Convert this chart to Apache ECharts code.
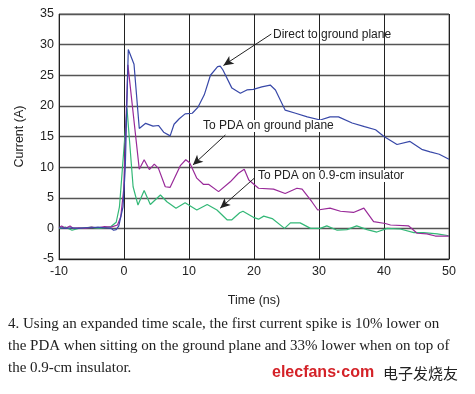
<!DOCTYPE html>
<html><head><meta charset="utf-8">
<script src="https://cdn.jsdelivr.net/npm/echarts@6/dist/echarts.min.js"></script>
<style>html,body{margin:0;padding:0;background:#fff}#c{width:475px;height:394px}</style>
</head><body><div id="c"></div>
<script>
var xTicks = [-10, 0, 10, 20, 30, 40, 50];
var yTicks = [-5, 0, 5, 10, 15, 20, 25, 30, 35];
var seriesNames = ["Direct to ground plane", "To PDA on ground plane", "To PDA on 0.9-cm insulator"];
var directTime = [-10,-9,-8,-7,-6,-5,-4,-3,-2,-1.6,-1.2,-0.8,-0.15,0.2,0.66,1.54,2.35,3.33,4.46,5.3,6.1,7.1,7.7,8.5,9.4,10.5,11.4,12.35,13.3,14.4,14.8,15.2,16.6,17.9,18.9,19.9,21.2,22.5,23.3,24.8,26.4,28.2,30.2,31.7,33,35.1,37,38.7,40,42,44,45.8,47.1,48.5,50];
var directVal = [0.1,0,0.1,0,0.1,0.1,0.2,0.1,0,-0.3,-0.2,0.4,3.5,10,29.2,26.8,16.3,17.15,16.7,16.8,15.7,15.1,17.0,17.9,18.7,18.8,19.8,21.8,25.0,26.4,26.5,25.9,22.9,22.05,22.6,22.7,23.1,23.4,22.6,19.3,18.8,18.2,17.7,18.2,18.2,17.2,16.6,16.1,15.0,13.7,14.2,12.9,12.5,12.1,11.3];
var groundTime = [-10,-9.6,-9,-8.3,-7.8,-7,-6,-5,-4,-3,-2,-1,-0.5,-0.05,0.6,2.35,3.1,3.9,4.66,5.3,6.35,7.1,8.7,9.5,10.1,11.2,12.2,13.0,14.55,16.35,17.6,18.5,19.2,20.7,23.0,24.8,26.6,27.4,28.9,29.8,31.7,33.3,35.3,36.9,38.4,40.2,41,43.8,45.1,46.6,47.9,50];
var groundVal = [0.1,0.4,0,0.4,0,0.1,0,0.2,0.1,0.3,0.2,0.55,1.9,6.3,26.7,9.65,11.2,9.6,10.5,9.8,6.8,6.7,10.3,11.2,10.7,8.2,7.2,7.2,6.0,7.6,9.0,9.65,7.9,6.55,6.4,5.7,6.55,6.4,4.35,3.0,3.3,2.8,2.6,3.3,1.1,0.8,0.55,0.4,-0.8,-0.9,-1.25,-1.25];
var insulTime = [-10,-9,-8,-7,-6,-5,-4,-3,-2,-1.2,-0.7,-0.3,0.46,1.4,2.15,3.1,4.05,5.6,6.6,8.0,9.4,11.2,12.8,14.3,15.85,16.6,17.8,18.3,19.9,20.7,21.5,22.8,24.7,25.6,27.1,28.7,30.2,31.2,32.8,34.3,35.8,37.4,38.9,40.5,42.5,44.6,46.1,48.2,50];
var insulVal = [0,0.2,-0.3,0,0.1,0.2,0,0.1,0.3,1.0,3.5,9,19.6,6.8,3.8,6.2,3.9,5.45,4.35,3.3,4.2,3.0,3.9,3.0,1.4,1.4,2.55,2.8,1.8,1.5,2.0,1.6,0.0,0.9,0.9,0.0,0.0,0.4,-0.3,-0.2,0.4,-0.2,-0.6,0.0,-0.1,-0.7,-0.7,-0.9,-1.2];
var arrowDirect = [[22.66, 31.73], [15.3, 26.6]];
var arrowGround = [[15.6, 15.25], [10.6, 10.35]];
var arrowInsul = [[20.05, 8.2], [14.8, 3.3]];
var captionLines = [
  "4. Using an expanded time scale, the first current spike is 10% lower on",
  "the PDA when sitting on the ground plane and 33% lower when on top of",
  "the 0.9-cm insulator."
];

function pairs(xs, ys) { return xs.map(function (x, i) { return [x, ys[i]]; }); }
function arrow(a) {
  return {
    silent: true, symbol: ['none', 'arrow'], symbolSize: [7, 10],
    lineStyle: { color: '#222', width: 1, type: 'solid' }, label: { show: false },
    data: [[{ coord: a[0] }, { coord: a[1] }]], animation: false
  };
}
var font = 'Liberation Sans, Arial, sans-serif';
var chart = echarts.init(document.getElementById('c'), null, { renderer: 'canvas' });
chart.setOption({
  animation: false,
  backgroundColor: '#fff',
  grid: { left: 59, top: 14, width: 390, height: 245, show: true, borderColor: '#666', borderWidth: 1 },
  xAxis: {
    type: 'value', min: xTicks[0], max: xTicks[xTicks.length - 1], interval: 10,
    name: 'Time (ns)', nameLocation: 'middle', nameGap: 35,
    nameTextStyle: { fontFamily: font, fontSize: 12.5, color: '#222' },
    axisLine: { show: true, onZero: false, lineStyle: { color: '#222', width: 1 } },
    axisTick: { show: false },
    axisLabel: { fontFamily: font, fontSize: 12.5, color: '#222', margin: 6 },
    splitLine: { show: true, lineStyle: { color: '#222', width: 1 } }
  },
  yAxis: {
    type: 'value', min: yTicks[0], max: yTicks[yTicks.length - 1], interval: 5,
    name: 'Current (A)', nameLocation: 'middle', nameGap: 33, nameRotate: 90,
    nameTextStyle: { fontFamily: font, fontSize: 12.5, color: '#222' },
    axisLine: { show: true, lineStyle: { color: '#222', width: 1 } },
    axisTick: { show: false },
    axisLabel: { fontFamily: font, fontSize: 12.5, color: '#222', margin: 5 },
    splitLine: { show: true, lineStyle: { color: '#555', width: 1.3 } }
  },
  series: [
    { name: seriesNames[0], type: 'line', data: pairs(directTime, directVal), showSymbol: false, smooth: false,
      lineStyle: { color: '#3848a8', width: 1.2 }, itemStyle: { color: '#3848a8' }, markLine: arrow(arrowDirect), z: 5 },
    { name: seriesNames[1], type: 'line', data: pairs(groundTime, groundVal), showSymbol: false,
      lineStyle: { color: '#992a99', width: 1.2 }, itemStyle: { color: '#992a99' }, markLine: arrow(arrowGround), z: 4 },
    { name: seriesNames[2], type: 'line', data: pairs(insulTime, insulVal), showSymbol: false,
      lineStyle: { color: '#33b877', width: 1.2 }, itemStyle: { color: '#33b877' }, markLine: arrow(arrowInsul), z: 3 }
  ],
  graphic: [
    { type: 'text', left: 273, top: 29, style: { text: seriesNames[0], fontFamily: font, fontSize: 12, fill: '#222' }, z: 100 },
    { type: 'text', left: 203, top: 120, style: { text: seriesNames[1], fontFamily: font, fontSize: 12, fill: '#222', backgroundColor: '#fff' }, z: 100 },
    { type: 'text', left: 258, top: 170, style: { text: seriesNames[2], fontFamily: font, fontSize: 12, fill: '#222', backgroundColor: '#fff' }, z: 100 },
    { type: 'text', left: 8, top: 317, style: { text: captionLines[0], fontFamily: 'Liberation Serif, serif', fontSize: 15, fill: '#222' } },
    { type: 'text', left: 8, top: 339, style: { text: captionLines[1], fontFamily: 'Liberation Serif, serif', fontSize: 15, fill: '#222' } },
    { type: 'text', left: 8, top: 361, style: { text: captionLines[2], fontFamily: 'Liberation Serif, serif', fontSize: 15, fill: '#222' } },
    { type: 'text', left: 272, top: 365, style: { text: 'elecfans·com', fontFamily: font, fontSize: 16, fontWeight: 'bold', fill: '#d42228' } },
    { type: 'text', left: 383, top: 366, style: { text: '电子发烧友', fontFamily: 'Noto Sans CJK SC', fontSize: 15, fill: '#222' } }
  ]
});
</script></body></html>
